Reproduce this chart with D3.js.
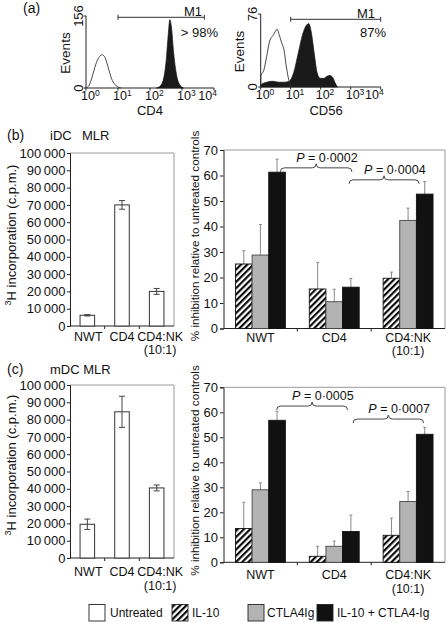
<!DOCTYPE html>
<html><head><meta charset="utf-8">
<script src="https://cdn.jsdelivr.net/npm/d3@7"></script>
<style>
body{margin:0;background:#fff}
svg text{font-family:"Liberation Sans",Arial,Helvetica,sans-serif;fill:#111}
</style>
</head><body>
<svg id="c" width="448" height="622"></svg>
<script>
// ---------------- DATA ----------------
const categories = ["NWT", "CD4", "CD4:NK"];
const categorySub = ["", "", "(10:1)"];
const seriesNames = ["IL-10", "CTLA4Ig", "IL-10 + CTLA4-Ig"];

const cpmTicks = [0, 10000, 20000, 30000, 40000, 50000, 60000, 70000, 80000, 90000, 100000];
const pctTicks = [0, 10, 20, 30, 40, 50, 60, 70];

// (b) iDC MLR, untreated, c.p.m.
const iDC_cpm = [6200, 70000, 20000];
const iDC_cpm_err = [400, 2500, 1700];
// (c) mDC MLR, untreated, c.p.m.
const mDC_cpm = [19500, 84500, 40500];
const mDC_cpm_err = [3000, 9000, 1700];

// % inhibition (b)
const iDC_IL10 = [25.3, 15.5, 19.7];
const iDC_IL10_err = [5.2, 10.4, 2.4];
const iDC_CTLA4 = [28.8, 10.5, 42.4];
const iDC_CTLA4_err = [12.0, 4.9, 4.8];
const iDC_both = [61.3, 16.2, 52.7];
const iDC_both_err = [5.1, 3.4, 4.9];
// % inhibition (c)
const mDC_IL10 = [13.5, 2.4, 10.8];
const mDC_IL10_err = [10.5, 4.0, 6.9];
const mDC_CTLA4 = [29.0, 6.4, 24.3];
const mDC_CTLA4_err = [2.8, 2.1, 4.0];
const mDC_both = [56.8, 12.3, 51.2];
const mDC_both_err = [3.6, 6.6, 2.8];

// P-value annotations: [start, end] in category-step units, level in %
const iDC_pvals = [{from: 0.77, to: 1.74, level: 63.0, label: "0·0002"},
                   {from: 1.70, to: 2.65, level: 58.3, label: "0·0004"}];
const mDC_pvals = [{from: 0.72, to: 1.68, level: 62.5, label: "0·0005"},
                   {from: 1.755, to: 2.71, level: 57.3, label: "0·0007"}];

// (a) flow cytometry histograms: [log10 fluorescence, events]
const cd4Iso = [[0.0,0],[0.1,6],[0.2,26],[0.3,50],[0.4,66],[0.5,72],[0.58,68],[0.65,55],[0.72,38],[0.8,20],[0.9,8],[1.0,2],[1.1,0]];
const cd4Pos = [[2.2,0],[2.3,3],[2.4,14],[2.5,55],[2.57,115],[2.62,148],[2.67,132],[2.74,75],[2.83,28],[2.93,7],[3.05,0]];
const cd56Iso = [[0.0,0],[0.005,12],[0.1,17],[0.2,32],[0.3,48],[0.42,54],[0.55,60],[0.62,54],[0.7,46],[0.78,38],[0.85,22],[0.94,7],[1.04,0]];
const cd56Pos = [[0.0,0],[0.03,3],[0.2,5],[0.4,6],[0.6,5],[0.8,5],[0.95,6],[1.1,15],[1.25,35],[1.4,55],[1.52,64],[1.6,66],[1.68,58],[1.78,36],[1.88,15],[1.98,9],[2.1,9],[2.2,11],[2.3,12],[2.4,10],[2.5,3],[2.56,0]];
const histTicks = [1, 10, 100, 1000, 10000];

// ---------------- DRAW ----------------
const svg = d3.select("#c");
const FS = 13;

const defs = svg.append("defs");
const pat = defs.append("pattern").attr("id", "hatch").attr("patternUnits", "userSpaceOnUse")
  .attr("width", 4.4).attr("height", 4.4).attr("patternTransform", "rotate(45)");
pat.append("rect").attr("width", 4.4).attr("height", 4.4).attr("fill", "#fff");
pat.append("line").attr("x1", 1.1).attr("y1", 0).attr("x2", 1.1).attr("y2", 4.4)
  .attr("stroke", "#000").attr("stroke-width", 2.1);

const fills = ["url(#hatch)", "#b3b3b3", "#111"];

function txt(x, y, s, opts = {}) {
  const t = svg.append("text").attr("x", x).attr("y", y).attr("font-size", opts.size || FS)
    .attr("text-anchor", opts.anchor || "start").text(s);
  if (opts.rotate) t.attr("transform", `rotate(-90,${x},${y})`);
  return t;
}

// ---- (a) histograms
function histogram(cfg) {
  const x = d3.scaleLog().domain([1, 1e4]).range([cfg.x0, cfg.x1]);
  const y = d3.scaleLinear().domain([0, cfg.ymax]).range([cfg.y0, cfg.y1]);
  const px = d => x(Math.pow(10, d[0]));
  const area = d3.area().x(px).y0(y(0)).y1(d => y(d[1])).curve(d3.curveMonotoneX);
  svg.append("path").datum(cfg.pos).attr("d", area).attr("fill", "#1a1a1a")
    .attr("stroke", "#111").attr("stroke-width", 0.7);
  const line = d3.line().x(px).y(d => y(d[1])).curve(d3.curveMonotoneX);
  svg.append("path").datum(cfg.iso).attr("d", line).attr("fill", "none")
    .attr("stroke", "#333").attr("stroke-width", 0.9);
  svg.append("line").attr("x1", cfg.x0).attr("x2", cfg.x0).attr("y1", y(0)).attr("y2", y(cfg.ymax))
    .attr("stroke", "#222");
  svg.append("line").attr("x1", cfg.x0).attr("x2", cfg.x1).attr("y1", y(0)).attr("y2", y(0))
    .attr("stroke", "#222");
  histTicks.forEach(v => {
    svg.append("line").attr("x1", x(v)).attr("x2", x(v)).attr("y1", y(0)).attr("y2", y(0) + 2.5)
      .attr("stroke", "#222");
  });
  [[0, y(0)], [cfg.ymax, y(cfg.ymax)]].forEach(([v, yy]) => {
    svg.append("line").attr("x1", cfg.x0 - 2.5).attr("x2", cfg.x0).attr("y1", yy).attr("y2", yy).attr("stroke", "#222");
    txt(cfg.x0 - 3.5, yy, String(v), {anchor: "middle", rotate: true});
  });
  txt(cfg.evX, (y(0) + y(cfg.ymax)) / 2 + 1, "Events", {anchor: "middle", rotate: true, size: 13.5});
  histTicks.forEach((v, i) => {
    const last = i === histTicks.length - 1;
    const t = svg.append("text").attr("y", y(0) + 12).attr("font-size", 12.5)
      .attr("text-anchor", last ? "end" : "start");
    const xx = x(v);
    t.attr("x", last ? xx + 3 : xx - 5);
    t.append("tspan").text("10");
    t.append("tspan").attr("dy", -4.5).attr("font-size", 8.5).text(String(i));
  });
  txt(cfg.labX, 115, cfg.label, {anchor: "middle"});
  const gx0 = x(cfg.gate[0]), gx1 = x(cfg.gate[1]);
  svg.append("line").attr("x1", gx0).attr("x2", gx1).attr("y1", cfg.gateY).attr("y2", cfg.gateY).attr("stroke", "#333");
  [gx0, gx1].forEach(g => svg.append("line").attr("x1", g).attr("x2", g)
    .attr("y1", cfg.gateY - 2.5).attr("y2", cfg.gateY + 2.5).attr("stroke", "#333"));
  txt(cfg.m1X, cfg.gateY - 1.5, "M1", {anchor: "end"});
  txt(cfg.pctX, 37, cfg.pct, {anchor: "end"});
}

txt(23, 13, "(a)", {size: 14});
histogram({x0: 86, x1: 214, y0: 88, y1: 16, ymax: 156, iso: cd4Iso, pos: cd4Pos,
  evX: 69.5, labX: 150, label: "CD4", gate: [10, 5000], gateY: 17.3, m1X: 202, pct: "> 98%", pctX: 218});
histogram({x0: 260.7, x1: 380.7, y0: 87, y1: 14, ymax: 76, iso: cd56Iso, pos: cd56Pos,
  evX: 244, labX: 326, label: "CD56", gate: [10, 10000], gateY: 19.3, m1X: 375, pct: "87%", pctX: 386});

// ---- left c.p.m. panels
const thin = "\u2009";
const fmtCpm = d => d === 0 ? "0" : d3.format(",")(d).replace(",", thin);

function styleAxis(g, size) {
  g.selectAll("text").attr("font-size", size || FS).attr("font-family", null).attr("fill", "#111");
  g.selectAll("line").attr("stroke", "#222");
  g.select(".domain").attr("stroke", "#222");
  g.attr("font-family", null);
}

function frame(x0, x1, y0, y1, xs) {
  svg.append("line").attr("x1", x0).attr("x2", x1).attr("y1", y1).attr("y2", y1).attr("stroke", "#9a9a9a");
  svg.append("line").attr("x1", x1).attr("x2", x1).attr("y1", y1).attr("y2", y0).attr("stroke", "#9a9a9a");
  svg.append("line").attr("x1", x0).attr("x2", x1).attr("y1", y0).attr("y2", y0).attr("stroke", "#222");
  [1, 2].forEach(i => {
    const bx = xs.range()[0] + xs.step() * i;
    svg.append("line").attr("x1", bx).attr("x2", bx).attr("y1", y0).attr("y2", y0 + 3).attr("stroke", "#222");
  });
}

const catLabelShift = [1, 0, 3.5];

function cpmPanel(cfg) {
  const x = d3.scaleBand().domain(categories).range([70, 174]);
  const y = d3.scaleLinear().domain([0, 100000]).range([cfg.y0, cfg.y1]);
  frame(70, 174, cfg.y0, cfg.y1, x);
  const ga = svg.append("g").attr("transform", "translate(70,0)")
    .call(d3.axisLeft(y).tickValues(cpmTicks).tickSize(3).tickPadding(1.5).tickFormat(fmtCpm));
  styleAxis(ga);
  const bw = x.bandwidth() * 0.42;
  categories.forEach((c, i) => {
    const cx = x(c) + x.bandwidth() / 2;
    svg.append("rect").attr("x", cx - bw / 2).attr("y", y(cfg.vals[i])).attr("width", bw)
      .attr("height", y(0) - y(cfg.vals[i])).attr("fill", "#fff").attr("stroke", "#333").attr("stroke-width", 1);
    const e0 = y(cfg.vals[i] - cfg.errs[i]), e1 = y(cfg.vals[i] + cfg.errs[i]);
    svg.append("line").attr("x1", cx).attr("x2", cx).attr("y1", e0).attr("y2", e1).attr("stroke", "#444");
    [e0, e1].forEach(e => svg.append("line").attr("x1", cx - 3).attr("x2", cx + 3).attr("y1", e).attr("y2", e).attr("stroke", "#444"));
    txt(cx + catLabelShift[i], cfg.y0 + cfg.lab1, c, {anchor: "middle", size: 12.5});
    if (categorySub[i]) txt(cx + catLabelShift[i], cfg.y0 + cfg.lab2, categorySub[i], {anchor: "middle", size: 12.5});
  });
  const t = svg.append("text").attr("font-size", FS).attr("text-anchor", "middle")
    .attr("transform", `translate(15.5,${cfg.titleY}) rotate(-90)`);
  t.append("tspan").attr("font-size", 9).attr("dy", -5).text("3");
  t.append("tspan").attr("dy", 5).text("H incorporation (c.p.m.)");
}

txt(7, 140, "(b)", {size: 14});
txt(50, 140, "iDC", {size: 13});
txt(82, 140, "MLR", {size: 13});
cpmPanel({y0: 326, y1: 153, vals: iDC_cpm, errs: iDC_cpm_err, lab1: 14.5, lab2: 28, titleY: 235});

txt(7, 374, "(c)", {size: 14});
txt(50, 374, "mDC MLR", {size: 13});
cpmPanel({y0: 558, y1: 385, vals: mDC_cpm, errs: mDC_cpm_err, lab1: 18, lab2: 31.5, titleY: 465});

// ---- right % inhibition panels
function pctPanel(cfg) {
  const x0 = 223.5, x1 = 445;
  const x = d3.scaleBand().domain(categories).range([x0, x1]);
  const xs = d3.scaleBand().domain(seriesNames).range([0, x.bandwidth()]).paddingOuter(0.72);
  const y = d3.scaleLinear().domain([0, 70]).range([cfg.y0, cfg.y1]);
  frame(x0, x1, cfg.y0, cfg.y1, x);
  const ga = svg.append("g").attr("transform", `translate(${x0},0)`)
    .call(d3.axisLeft(y).tickValues(pctTicks).tickSize(3.5).tickPadding(2));
  styleAxis(ga);
  cfg.series.forEach((vals, s) => {
    categories.forEach((c, i) => {
      const bx = x(c) + xs(seriesNames[s]);
      const bw = xs.bandwidth();
      const v = vals[i], e = cfg.errs[s][i];
      const cx = bx + bw / 2;
      svg.append("line").attr("x1", cx).attr("x2", cx).attr("y1", y(v)).attr("y2", y(v + e))
        .attr("stroke", "#8a8a8a").attr("stroke-width", 1);
      svg.append("line").attr("x1", cx - 1.5).attr("x2", cx + 1.5).attr("y1", y(v + e)).attr("y2", y(v + e))
        .attr("stroke", "#8a8a8a").attr("stroke-width", 1);
      svg.append("rect").attr("x", bx).attr("y", y(v)).attr("width", bw).attr("height", y(0) - y(v))
        .attr("fill", fills[s]).attr("stroke", s === 1 ? "#444" : "#111").attr("stroke-width", 0.9);
    });
  });
  categories.forEach((c, i) => {
    const cx = x(c) + x.bandwidth() / 2;
    txt(cx, cfg.y0 + cfg.lab1, c, {anchor: "middle", size: 12.5});
    if (categorySub[i]) txt(cx, cfg.y0 + cfg.lab2, categorySub[i], {anchor: "middle", size: 12.5});
  });
  txt(199, cfg.titleY, "% inhibition relative to untreated controls", {anchor: "middle", rotate: true, size: 11.7});
  cfg.pvals.forEach(p => {
    const a = x0 + x.step() * p.from, b = x0 + x.step() * p.to, m = (a + b) / 2;
    const yy = y(p.level), h = 4;
    const d = `M${a},${yy + h} Q${a},${yy} ${a + h},${yy} L${m - h},${yy} Q${m},${yy} ${m},${yy - h} ` +
              `Q${m},${yy} ${m + h},${yy} L${b - h},${yy} Q${b},${yy} ${b},${yy + h}`;
    svg.append("path").attr("d", d).attr("fill", "none").attr("stroke", "#333").attr("stroke-width", 0.9);
    const t = svg.append("text").attr("x", m - 20).attr("y", yy - 6).attr("font-size", 12.5);
    t.append("tspan").attr("font-style", "italic").text("P");
    t.append("tspan").text(" = " + p.label);
  });
}

pctPanel({y0: 328.5, y1: 150, series: [iDC_IL10, iDC_CTLA4, iDC_both],
  errs: [iDC_IL10_err, iDC_CTLA4_err, iDC_both_err], lab1: 13, lab2: 26.5, titleY: 236, pvals: iDC_pvals});
pctPanel({y0: 562.3, y1: 387.3, series: [mDC_IL10, mDC_CTLA4, mDC_both],
  errs: [mDC_IL10_err, mDC_CTLA4_err, mDC_both_err], lab1: 17, lab2: 30.5, titleY: 470.5, pvals: mDC_pvals});

// ---- legend
const legendItems = [{name: "Untreated", fill: "#fff", x: 89, tx: 110}].concat(
  seriesNames.map((n, i) => ({name: n, fill: fills[i], x: [172, 248, 317][i], tx: [192, 267, 337][i]})));
legendItems.forEach(it => {
  svg.append("rect").attr("x", it.x).attr("y", 604.5).attr("width", 16).attr("height", 16.5)
    .attr("fill", it.fill).attr("stroke", "#222").attr("stroke-width", 0.9);
  txt(it.tx, 617, it.name, {size: 12});
});
</script>
</body></html>
